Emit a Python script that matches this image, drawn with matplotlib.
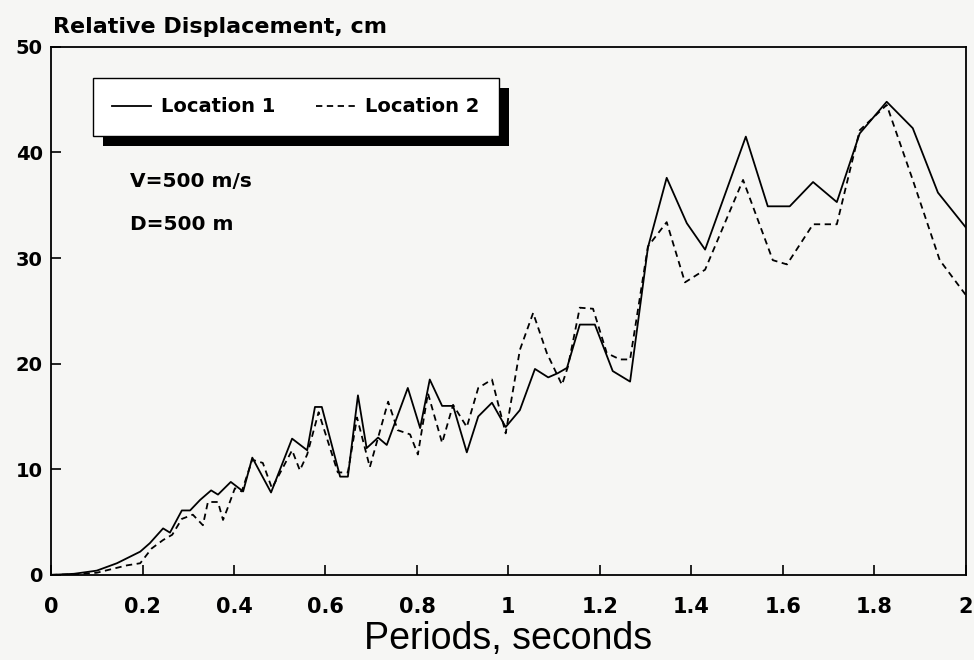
import numpy as np
import matplotlib
matplotlib.use('Agg')
import matplotlib.pyplot as plt
from matplotlib.patches import Rectangle

# Location 1 (solid)
period_1 = [0, 0.05, 0.1, 0.144, 0.195, 0.216, 0.245, 0.26, 0.286, 0.304, 0.326, 0.35, 0.365,
            0.393, 0.42, 0.44, 0.481, 0.527, 0.56, 0.577, 0.592, 0.632, 0.649, 0.671, 0.69,
            0.715, 0.734, 0.78, 0.807, 0.828, 0.855, 0.879, 0.909, 0.934, 0.964, 0.977, 0.994,
            1.025, 1.058, 1.087, 1.108, 1.128, 1.156, 1.189, 1.228, 1.266, 1.305, 1.346, 1.39,
            1.43, 1.519, 1.567, 1.615, 1.666, 1.718, 1.768, 1.827, 1.884, 1.939, 2.0]
disp_1 = [0, 0.1, 0.4, 1.1, 2.2, 3.0, 4.4, 4.0, 6.1, 6.1, 7.1, 8.0, 7.6,
          8.8, 7.9, 11.1, 7.8, 12.9, 11.8, 15.9, 15.9, 9.3, 9.3, 17.0, 12.0,
          13.0, 12.3, 17.7, 13.9, 18.5, 16.0, 16.0, 11.6, 15.0, 16.3, 15.3, 14.0,
          15.6, 19.5, 18.7, 19.1, 19.6, 23.7, 23.7, 19.3, 18.3, 31.0, 37.6, 33.3,
          30.8, 41.5, 34.9, 34.9, 37.2, 35.3, 41.8, 44.8, 42.3, 36.2, 32.9]

# Location 2 (dashed)
period_2 = [0, 0.05, 0.1, 0.166, 0.195, 0.22, 0.245, 0.265, 0.286, 0.31, 0.332, 0.343, 0.365,
            0.376, 0.385, 0.402, 0.417, 0.44, 0.463, 0.483, 0.527, 0.544, 0.56, 0.585, 0.627,
            0.649, 0.669, 0.697, 0.737, 0.758, 0.785, 0.802, 0.824, 0.855, 0.879, 0.909, 0.934,
            0.964, 0.994, 1.025, 1.054, 1.084, 1.117, 1.13, 1.156, 1.185, 1.215, 1.244, 1.266,
            1.305, 1.346, 1.386, 1.43, 1.513, 1.578, 1.609, 1.666, 1.718, 1.768, 1.827, 1.884,
            1.943, 2.0]
disp_2 = [0, 0.05, 0.2, 0.9, 1.1, 2.5, 3.3, 3.8, 5.3, 5.7, 4.7, 6.9, 6.9,
          5.2, 6.2, 8.2, 7.9, 10.9, 10.6, 8.2, 11.8, 9.9, 11.4, 15.4, 9.7,
          9.7, 14.9, 10.2, 16.4, 13.7, 13.3, 11.4, 17.2, 12.5, 16.1, 14.0, 17.7,
          18.5, 13.4, 21.3, 24.8, 21.0, 18.0, 19.7, 25.3, 25.2, 21.0, 20.4, 20.4,
          31.1, 33.4, 27.7, 28.9, 37.4, 29.8, 29.4, 33.2, 33.2, 42.1, 44.5, 37.4,
          29.8, 26.5]

x_ticks = [0, 0.2, 0.4, 0.6, 0.8, 1, 1.2, 1.4, 1.6, 1.8, 2]
x_tick_labels = ['0', '0.2', '0.4', '0.6', '0.8', '1', '1.2', '1.4', '1.6', '1.8', '2']
y_ticks = [0, 10, 20, 30, 40, 50]

plt.rcParams['font.family'] = ['DejaVu Sans']
bg = '#f6f6f4'

fig = plt.figure(figsize=(9.74, 6.6), dpi=100, facecolor=bg)
ax = fig.add_axes([0.0524, 0.129, 0.9392, 0.8])
ax.set_facecolor(bg)

ax.plot(period_1, disp_1, color='black', lw=1.3, label='Location 1')
ax.plot(period_2, disp_2, color='black', lw=1.3, ls=(0, (3.5, 2.5)), label='Location 2')

ax.set_xlim(0, 2)
ax.set_ylim(0, 50)
ax.set_xticks(x_ticks)
ax.set_xticklabels(x_tick_labels, fontsize=15, fontweight='bold')
ax.set_yticks(y_ticks)
ax.set_yticklabels([str(v) for v in y_ticks], fontsize=14, fontweight='bold')
ax.tick_params(direction='in', length=7, width=1.2, color='black')
ax.tick_params(axis='x', pad=16)
ax.tick_params(axis='y', pad=6)
for s in ax.spines.values():
    s.set_linewidth(1.3)

ax.set_xlabel('Periods, seconds', family='Liberation Sans', fontsize=27, labelpad=3)
fig.text(0.054, 0.95, 'Relative Displacement, cm', fontsize=16, fontweight='bold',
         ha='left', va='baseline')

ax.text(0.0863, 0.735, 'V=500 m/s', transform=ax.transAxes, fontsize=14.5,
        fontweight='bold', va='baseline')
ax.text(0.0863, 0.653, 'D=500 m', transform=ax.transAxes, fontsize=14.5,
        fontweight='bold', va='baseline')

leg = ax.legend(loc='upper left', bbox_to_anchor=(0.0459, 0.941), borderaxespad=0,
                ncol=2, frameon=True, fancybox=False, framealpha=1,
                handlelength=2.0, handletextpad=0.5, borderpad=1.0, columnspacing=2.1,
                prop={'weight': 'bold', 'size': 14})
leg.get_frame().set_edgecolor('black')
leg.get_frame().set_linewidth(1.0)
leg.get_frame().set_facecolor('white')
leg.set_zorder(5)

# offset black shadow behind the legend box
fig.canvas.draw()
bb = leg.get_window_extent().transformed(fig.transFigure.inverted())
dx, dy = 10 / 974, 10 / 660
ax.add_patch(Rectangle((bb.x0 + dx, bb.y0 - dy), bb.width, bb.height,
                       transform=fig.transFigure, facecolor='black',
                       edgecolor='none', zorder=4, clip_on=False))

fig.savefig('out.png', dpi=100, facecolor=bg)
